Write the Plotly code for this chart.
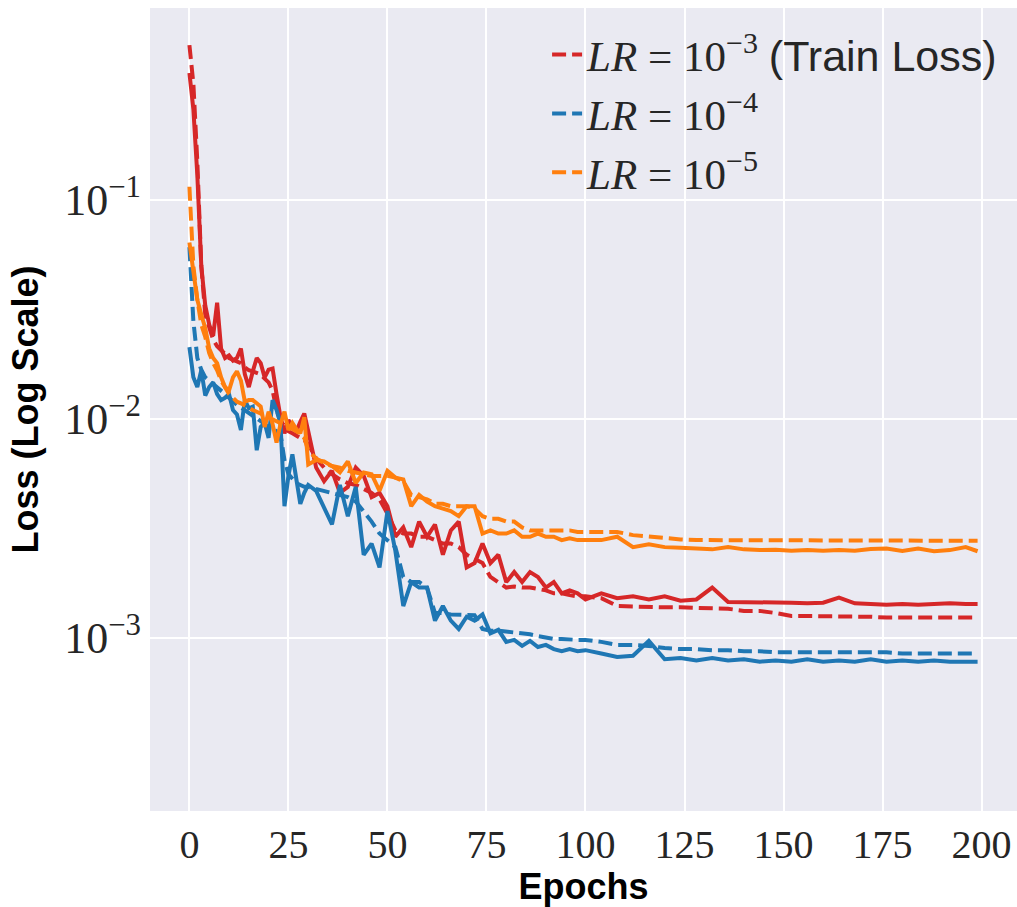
import plotly.graph_objects as go

# ---- data ----
epochs = list(range(0, 31)) + list(range(32, 101, 2)) + list(range(104, 197, 4)) + [199]

lr3_train = [0.51, 0.34, 0.15, 0.05, 0.03, 0.026, 0.023, 0.0215, 0.0205, 0.0198, 0.019, 0.0187, 0.0183,
             0.018, 0.0172, 0.0167, 0.0165, 0.0162, 0.016, 0.0153, 0.0147, 0.0135, 0.011, 0.0098, 0.0092,
             0.0088, 0.0086, 0.0084, 0.0082, 0.008, 0.0077,
             0.0066, 0.006, 0.0056, 0.0053, 0.0051, 0.005, 0.0048, 0.0046, 0.0043, 0.0037,
             0.0031, 0.003, 0.003, 0.0029, 0.0029, 0.0028, 0.0027, 0.0027, 0.0026, 0.0024,
             0.0023, 0.0022, 0.0019, 0.0018, 0.0017, 0.00172, 0.0017, 0.0017, 0.00168, 0.00165,
             0.0016, 0.0016, 0.00157, 0.00155, 0.00155,
             0.00152, 0.0014, 0.00139, 0.00138, 0.00138, 0.00138, 0.00137, 0.00137, 0.00136, 0.00133,
             0.00133, 0.0013, 0.00126, 0.00126, 0.00126, 0.00126, 0.00126, 0.00125, 0.00124, 0.00124,
             0.00124, 0.00124, 0.00124, 0.00124, 0.00124]
lr3_val = [0.38, 0.26, 0.13, 0.05, 0.033, 0.027, 0.024, 0.034, 0.021, 0.019, 0.0195, 0.0185, 0.019,
           0.021, 0.016, 0.014, 0.0165, 0.019, 0.018, 0.0155, 0.0168, 0.017, 0.013, 0.0102, 0.0086,
           0.0099, 0.0092, 0.0088, 0.0097, 0.0106, 0.0088,
           0.0060, 0.0052, 0.0058, 0.0046, 0.0049, 0.0060, 0.0055, 0.0044, 0.0046, 0.0040,
           0.0029, 0.0032, 0.0026, 0.0034, 0.0029, 0.0033, 0.0024, 0.0031, 0.0034, 0.0021,
           0.0022, 0.0027, 0.0022, 0.0024, 0.0018, 0.002, 0.0018, 0.002, 0.0019, 0.0017,
           0.0018, 0.0016, 0.00165, 0.0016, 0.0015,
           0.0016, 0.00152, 0.00155, 0.0015, 0.00155, 0.00148, 0.0015, 0.0017, 0.00146, 0.00146,
           0.00145, 0.00145, 0.00145, 0.00144, 0.00145, 0.00153, 0.00144, 0.00143, 0.00142, 0.00143,
           0.00142, 0.00143, 0.00144, 0.00143, 0.00143]
lr4_train = [0.061, 0.028, 0.019, 0.0168, 0.0155, 0.015, 0.0145, 0.014, 0.0135, 0.013, 0.0125, 0.012,
             0.0116, 0.0113, 0.011, 0.0107, 0.0104, 0.0101, 0.0098, 0.0095, 0.0092, 0.009, 0.0088,
             0.0085, 0.0065, 0.0056, 0.0053, 0.0051, 0.005, 0.0049, 0.0049,
             0.0048, 0.0047, 0.0046, 0.0045, 0.0044, 0.0042, 0.0038, 0.0034, 0.003, 0.0028,
             0.0026, 0.0019, 0.0018, 0.0018, 0.0017, 0.0013, 0.0013, 0.00128, 0.00128, 0.00127,
             0.00127, 0.0011, 0.00108, 0.00108, 0.00107, 0.00107, 0.00105, 0.00104, 0.00102, 0.001,
             0.00099, 0.00099, 0.00098, 0.00098, 0.00098,
             0.00096, 0.00093, 0.00093, 0.00092, 0.0009, 0.00089, 0.00089, 0.00088, 0.00088, 0.00087,
             0.00087, 0.00086, 0.00086, 0.00086, 0.00086, 0.00086, 0.00086, 0.00086, 0.00086, 0.00085,
             0.00085, 0.00085, 0.00085, 0.00085, 0.00085]
lr4_val = [0.0213, 0.0155, 0.014, 0.0167, 0.0128, 0.014, 0.0147, 0.013, 0.0122, 0.0125, 0.013, 0.011,
           0.0105, 0.0089, 0.0122, 0.0112, 0.0114, 0.0072, 0.0092, 0.0096, 0.0082, 0.0122, 0.011,
           0.0095, 0.004, 0.0055, 0.0069, 0.0053, 0.0041, 0.0046, 0.005,
           0.0047, 0.0039, 0.0033, 0.005, 0.0036, 0.0049, 0.0024, 0.0027, 0.0021, 0.0038,
           0.0025, 0.0014, 0.0018, 0.0017, 0.0017, 0.0012, 0.0014, 0.0012, 0.0011, 0.00125,
           0.0012, 0.00128, 0.00105, 0.00109, 0.00096, 0.00098, 0.00092, 0.00097, 0.00091, 0.00093,
           0.00089, 0.00087, 0.00089, 0.00087, 0.00088,
           0.00085, 0.00082, 0.00083, 0.00097, 0.0008, 0.00081, 0.00079, 0.00081, 0.00079, 0.0008,
           0.00078, 0.00079, 0.00078, 0.0008, 0.00078, 0.00079, 0.00078, 0.0008, 0.00078, 0.00079,
           0.00078, 0.00079, 0.00078, 0.00078, 0.00078]
lr5_train = [0.115, 0.05, 0.035, 0.027, 0.0237, 0.02, 0.018, 0.0167, 0.015, 0.0138, 0.013, 0.0125,
             0.012, 0.0118, 0.0115, 0.0112, 0.011, 0.0108, 0.0106, 0.0104, 0.0102, 0.01, 0.0098,
             0.0096, 0.0094, 0.0092, 0.009, 0.0088, 0.0085, 0.0082, 0.0072,
             0.0066, 0.0063, 0.0061, 0.006, 0.0058, 0.0057, 0.0056, 0.0055, 0.0055, 0.0055,
             0.0054, 0.0052, 0.0045, 0.0044, 0.0043, 0.0041, 0.0041, 0.004, 0.004, 0.004,
             0.0039, 0.0036, 0.0035, 0.0035, 0.0034, 0.0034, 0.0032, 0.0031, 0.0031, 0.0031,
             0.0031, 0.0031, 0.0031, 0.00305, 0.00305,
             0.00305, 0.00305, 0.00295, 0.0029, 0.00285, 0.00282, 0.0028, 0.0028, 0.0028, 0.0028,
             0.0028, 0.0028, 0.0028, 0.0028, 0.0028, 0.0028, 0.0028, 0.0028, 0.0028, 0.00279,
             0.00279, 0.00278, 0.00278, 0.00278, 0.00278]
lr5_val = [0.064, 0.048, 0.035, 0.03, 0.026, 0.021, 0.019, 0.018, 0.0155, 0.014, 0.0135, 0.0155,
           0.0165, 0.015, 0.012, 0.0122, 0.0122, 0.0118, 0.0114, 0.0092, 0.0108, 0.0095, 0.0078,
           0.0095, 0.0108, 0.0089, 0.0096, 0.009, 0.0086, 0.0102, 0.0062,
           0.0065, 0.0064, 0.0061, 0.0057, 0.0064, 0.0051, 0.0057, 0.0056, 0.0047, 0.0058,
           0.0054, 0.0053, 0.004, 0.0045, 0.0042, 0.004, 0.0039, 0.0038, 0.0036, 0.004,
           0.004, 0.003, 0.0031, 0.003, 0.003, 0.0031, 0.0029, 0.0029, 0.003, 0.0029,
           0.0029, 0.0028, 0.00285, 0.0028, 0.0028,
           0.0028, 0.0029, 0.0026, 0.00268, 0.0026, 0.00258, 0.00256, 0.00254, 0.0026, 0.00254,
           0.00252, 0.00253, 0.0025, 0.00252, 0.0025, 0.00252, 0.0025, 0.00255, 0.00256, 0.0025,
           0.00256, 0.00249, 0.00252, 0.0026, 0.00249]

x_ticks = [0, 25, 50, 75, 100, 125, 150, 175, 200]
y_ticks = [1e-3, 1e-2, 1e-1]
y_tick_text = ["10<sup>\u22123</sup>", "10<sup>\u22122</sup>", "10<sup>\u22121</sup>"]

RED, BLUE, ORANGE = "#d62728", "#1f77b4", "#ff7f0e"
SANS = "Liberation Sans"
SERIF = "Liberation Serif"

names = [
    "<i>LR</i> = 10<sup>\u22123</sup> <span style='font-family:Liberation Sans'>(Train Loss)</span>",
    "<i>LR</i> = 10<sup>\u22124</sup>",
    "<i>LR</i> = 10<sup>\u22125</sup>",
]

fig = go.Figure()
series = [(lr3_train, lr3_val, RED, names[0]),
          (lr4_train, lr4_val, BLUE, names[1]),
          (lr5_train, lr5_val, ORANGE, names[2])]
for tr, va, col, nm in series:
    fig.add_trace(go.Scatter(x=epochs, y=tr, mode="lines", name=nm,
                             line=dict(color=col, width=4, dash="14px,6px")))
    fig.add_trace(go.Scatter(x=epochs, y=va, mode="lines", showlegend=False,
                             line=dict(color=col, width=4)))

fig.update_layout(
    width=1017, height=907,
    margin=dict(l=150, r=0, t=8, b=96, autoexpand=False),
    paper_bgcolor="white", plot_bgcolor="#EAEAF2",
    font=dict(family=SERIF, size=40, color="#262626"),
    showlegend=True,
    legend=dict(x=0.458, y=0.985, xanchor="left", yanchor="top",
                bgcolor="rgba(0,0,0,0)", font=dict(family=SERIF, size=43, color="#262626"),
                itemwidth=30, tracegroupgap=0),
)
fig.update_xaxes(range=[-9.95, 208.95], tickvals=x_ticks, ticks="", showline=False,
                 gridcolor="white", gridwidth=2, zeroline=False, automargin=False,
                 tickfont=dict(family=SERIF, size=40, color="#262626"), ticklabelstandoff=6,
                 title=dict(text="Epochs", standoff=10,
                            font=dict(family=SANS, size=36, color="black", weight="bold")))
fig.update_yaxes(type="log", range=[-3.79, -0.123], tickvals=y_ticks, ticktext=y_tick_text,
                 ticks="", showline=False, gridcolor="white", gridwidth=2, zeroline=False,
                 automargin=False,
                 tickfont=dict(family=SERIF, size=44, color="#262626"), ticklabelstandoff=8,
                 title=dict(text="Loss (Log Scale)", standoff=14,
                            font=dict(family=SANS, size=36, color="black", weight="bold")))

fig.write_html("out.html", config={"displayModeBar": False},
               post_script="document.body.style.margin='0px';document.body.style.overflow='hidden';")
